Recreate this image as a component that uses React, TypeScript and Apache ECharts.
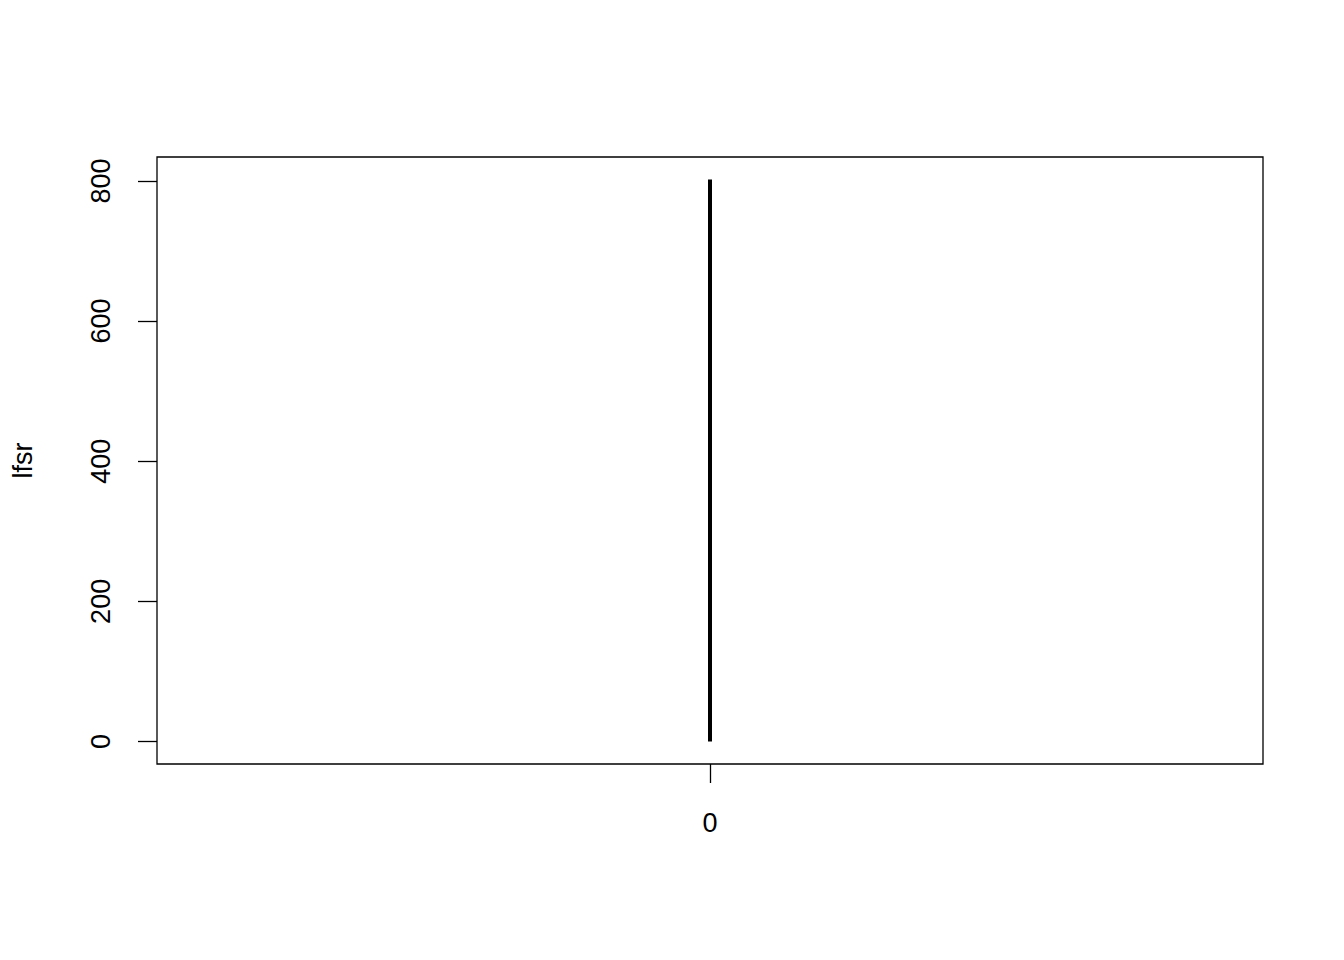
import React, { useEffect, useRef } from "react";
import * as echarts from "echarts";

const categories = ["0"];
const counts = [802];
const yTicks = [0, 200, 400, 600, 800];
const yName = "lfsr";

export default function App() {
  const ref = useRef<HTMLDivElement>(null);
  useEffect(() => {
    if (!ref.current) return;
    const chart = echarts.init(ref.current, undefined, { renderer: "svg" });
    const maxV = Math.max(...counts);
    const pad = maxV * 0.04;
    const font = "'Liberation Sans', Arial, Helvetica, sans-serif";
    chart.setOption({
      animation: false,
      backgroundColor: "#ffffff",
      grid: {
        left: 157,
        top: 157,
        right: 81,
        bottom: 196,
        containLabel: false,
        outerBoundsMode: "none",
        show: true,
        borderColor: "#000",
        borderWidth: 1.3,
        backgroundColor: "transparent",
      },
      xAxis: {
        type: "category",
        data: categories,
        boundaryGap: true,
        axisLine: { show: false, onZero: false },
        axisTick: { show: true, alignWithLabel: true, length: 19, lineStyle: { color: "#000", width: 1.3 } },
        axisLabel: { color: "#000", fontSize: 27, fontFamily: font, margin: 45 },
        splitLine: { show: false },
      },
      yAxis: {
        type: "value",
        min: -pad,
        max: maxV + pad,
        name: yName,
        nameLocation: "middle",
        nameGap: 121,
        nameRotate: 90,
        nameTextStyle: { color: "#000", fontSize: 27, fontFamily: font },
        axisLine: { show: false, onZero: false },
        axisTick: { show: true, length: 19, customValues: yTicks, lineStyle: { color: "#000", width: 1.3 } },
        axisLabel: { color: "#000", fontSize: 27, fontFamily: font, rotate: 90, margin: 43, customValues: yTicks },
        splitLine: { show: false },
      },
      series: [
        {
          type: "bar",
          data: counts,
          barWidth: 4,
          itemStyle: { color: "#000" },
        },
      ],
    });
    return () => chart.dispose();
  }, []);
  return <div ref={ref} style={{ position: "absolute", left: 0, top: 0, width: 1344, height: 960 }} />;
}
